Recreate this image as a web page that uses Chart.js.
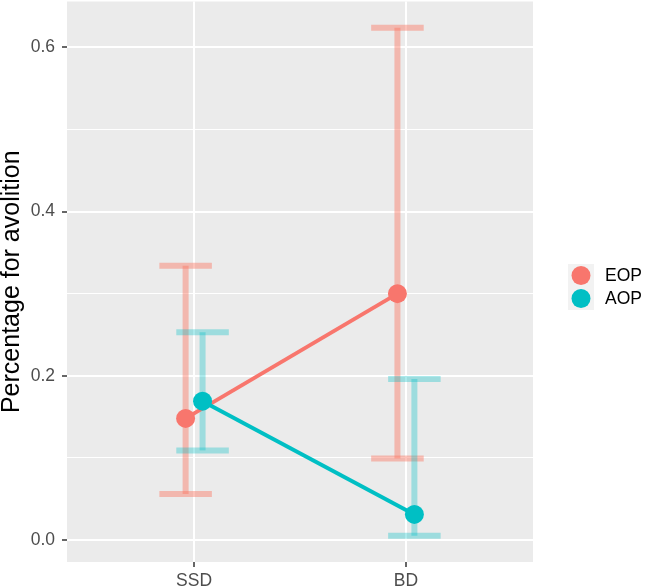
<!DOCTYPE html>
<html><head><meta charset="utf-8">
<script src="https://cdn.jsdelivr.net/npm/chart.js@4"></script>
<style>html,body{margin:0;padding:0;background:#fff}canvas{display:block}</style>
</head><body>
<canvas id="c" width="646" height="588"></canvas>
<script>
const categories = ['SSD', 'BD'];
const seriesNames = ['EOP', 'AOP'];
const eopMean  = [0.148, 0.300];
const eopLower = [0.056, 0.099];
const eopUpper = [0.334, 0.624];
const aopMean  = [0.169, 0.031];
const aopLower = [0.109, 0.005];
const aopUpper = [0.253, 0.196];
const yTickValues = [0, 0.1, 0.2, 0.3, 0.4, 0.5, 0.6];
const yTickLabels = ['0.0', '', '0.2', '', '0.4', '', '0.6'];
const yTitle = 'Percentage for avolition';

const FONT = '"Liberation Sans", Arial, Helvetica, sans-serif';
const colors = ['#F8766D', '#00BFC4'];
const barColors = ['rgba(250,120,100,0.45)', 'rgba(0,191,196,0.33)'];
const dodge = [-0.04, 0.04];
const capHalf = 0.124;

const series = [
  {name: seriesNames[0], mean: eopMean, lower: eopLower, upper: eopUpper},
  {name: seriesNames[1], mean: aopMean, lower: aopLower, upper: aopUpper}
];

const panelBg = {
  id: 'panelBg',
  beforeDraw(chart) {
    const {ctx, chartArea: a} = chart;
    ctx.save();
    ctx.fillStyle = '#EBEBEB';
    ctx.fillRect(a.left, a.top, a.right - a.left, a.bottom - a.top);
    ctx.restore();
  }
};

const errorBars = {
  id: 'errorBars',
  beforeDatasetsDraw(chart) {
    const {ctx, scales: {x, y}} = chart;
    ctx.save();
    ctx.lineCap = 'butt';
    ctx.lineWidth = 6;
    series.forEach((s, k) => {
      ctx.strokeStyle = barColors[k];
      s.mean.forEach((m, i) => {
        const c = i + 1 + dodge[k];
        const cx = x.getPixelForValue(c);
        const x0 = x.getPixelForValue(c - capHalf);
        const x1 = x.getPixelForValue(c + capHalf);
        const yt = y.getPixelForValue(s.upper[i]);
        const yb = y.getPixelForValue(s.lower[i]);
        [[x0, yt, x1, yt], [cx, yt, cx, yb], [x0, yb, x1, yb]].forEach(([a, b, e, d]) => {
          ctx.beginPath(); ctx.moveTo(a, b); ctx.lineTo(e, d); ctx.stroke();
        });
      });
    });
    ctx.restore();
  }
};

const customLegend = {
  id: 'customLegend',
  afterDraw(chart) {
    const ctx = chart.ctx;
    ctx.save();
    const kx = 568, ky = 264, kw = 26, kh = 23;
    series.forEach((s, k) => {
      ctx.fillStyle = '#F2F2F2';
      ctx.fillRect(kx, ky + k * kh, kw, kh);
    });
    series.forEach((s, k) => {
      const cy = ky + k * kh + kh / 2;
      ctx.fillStyle = colors[k];
      ctx.beginPath(); ctx.arc(kx + kw / 2, cy, 9.5, 0, Math.PI * 2); ctx.fill();
      ctx.fillStyle = '#000';
      ctx.font = '17.5px ' + FONT;
      ctx.textBaseline = 'middle';
      ctx.textAlign = 'left';
      ctx.fillText(s.name, 605, cy + 0.5);
    });
    ctx.restore();
  }
};

new Chart(document.getElementById('c'), {
  type: 'line',
  data: {
    datasets: series.map((s, k) => ({
      label: s.name,
      data: s.mean.map((m, i) => ({x: i + 1 + dodge[k], y: m})),
      borderColor: colors[k],
      backgroundColor: colors[k],
      borderWidth: 4,
      pointRadius: 9.5,
      pointBorderWidth: 0,
      pointBackgroundColor: colors[k],
      fill: false,
      tension: 0,
      clip: false,
      order: 1 - k
    }))
  },
  options: {
    responsive: false,
    devicePixelRatio: 1,
    animation: false,
    layout: {autoPadding: false, padding: {top: 1.5, right: 113, left: 0, bottom: 0}},
    plugins: {legend: {display: false}, tooltip: {enabled: false}},
    scales: {
      x: {
        type: 'linear', min: 0.4, max: 2.6,
        afterBuildTicks: s => { s.ticks = categories.map((c, i) => ({value: i + 1})); },
        afterFit: s => { s.height = 26; s.paddingLeft = 0; s.paddingRight = 0; },
        ticks: {
          callback: v => categories[Math.round(v) - 1] || '',
          color: '#4D4D4D', font: {family: FONT, size: 17.5}, padding: 4,
          autoSkip: false, maxRotation: 0
        },
        grid: {color: '#FFFFFF', lineWidth: 2, tickColor: '#333333', tickWidth: 1.5, tickLength: 5},
        border: {display: false}
      },
      y: {
        type: 'linear', min: -0.027, max: 0.656,
        afterBuildTicks: s => { s.ticks = yTickValues.map(v => ({value: v})); },
        afterFit: s => { s.width = 67; s.paddingTop = 0; s.paddingBottom = 0; },
        ticks: {
          callback: (v, i) => yTickLabels[i],
          color: '#4D4D4D', font: {family: FONT, size: 17.5}, padding: 7, autoSkip: false
        },
        grid: {
          color: '#FFFFFF',
          lineWidth: c => (yTickLabels[c.index] ? 2 : 1),
          tickColor: c => (yTickLabels[c.index] ? '#333333' : 'rgba(0,0,0,0)'),
          tickWidth: 1.5, tickLength: 5
        },
        border: {display: false},
        title: {
          display: true, text: yTitle, color: '#000000',
          font: {family: FONT, size: 25, lineHeight: 1.0}, padding: {top: 0, bottom: 0}
        }
      }
    }
  },
  plugins: [panelBg, errorBars, customLegend]
});
</script>
</body></html>
